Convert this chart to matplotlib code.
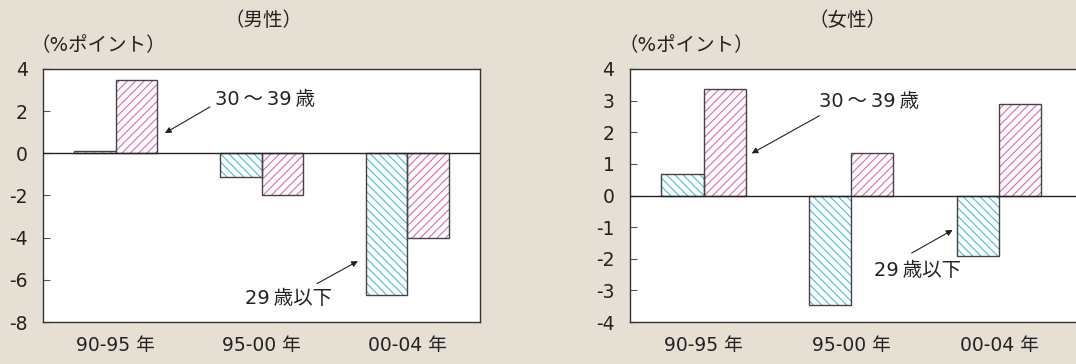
import matplotlib
matplotlib.use("Agg")
import matplotlib.pyplot as plt
import numpy as np

# changes in rates by age band, in percentage points
periods = ["90-95 年", "95-00 年", "00-04 年"]
male_under29 = [0.1, -1.1, -6.7]
male_30s = [3.5, -2.0, -4.0]
female_under29 = [0.67, -3.45, -1.9]
female_30s = [3.38, 1.35, 2.9]

male_ticks = [-8, -6, -4, -2, 0, 2, 4]
female_ticks = [-4, -3, -2, -1, 0, 1, 2, 3, 4]

label_30s = "30\u2009～\u200939\u2009歳"
label_under29 = "29\u2009歳以下"

BG = "#e6e0d4"
BLUE = "#45bcd8"
PINK = "#e066ae"
EDGE = "#444444"
FONT = ["DejaVu Sans", "Noto Sans CJK JP"]

plt.rcParams["font.family"] = FONT
plt.rcParams["hatch.linewidth"] = 0.8

fig = plt.figure(figsize=(10.76, 3.64), dpi=100, facecolor=BG)

W, H = 1076, 364


def panel(left, right, xmax, values_a, values_b, ticks, title, title_x, unit_x,
          notes):
    ax = fig.add_axes([left / W, 1 - 322 / H, (right - left) / W, (322 - 69) / H])
    ax.set_facecolor("white")
    x = np.arange(len(periods))
    w = 0.285
    # hatched fill first, then a plain outline on top
    ax.bar(x - w / 2, values_a, w, color="white", edgecolor=BLUE, hatch="\\\\\\\\",
           linewidth=0, zorder=2)
    ax.bar(x + w / 2, values_b, w, color="white", edgecolor=PINK, hatch="////",
           linewidth=0, zorder=2)
    ax.bar(x - w / 2, values_a, w, color="none", edgecolor=EDGE, linewidth=1.0,
           zorder=3)
    ax.bar(x + w / 2, values_b, w, color="none", edgecolor=EDGE, linewidth=1.0,
           zorder=3)
    ax.axhline(0, color="#222222", linewidth=1.0, zorder=4)

    ax.set_xlim(-0.5, xmax)
    ax.set_ylim(ticks[0], ticks[-1])
    ax.set_yticks(ticks)
    ax.set_yticklabels([str(t) for t in ticks], fontsize=13.5, color="#222222")
    ax.set_xticks(x)
    ax.set_xticklabels(periods, fontsize=13.5, color="#222222")
    ax.tick_params(axis="y", direction="in", length=5, width=0.8, pad=11,
                   color="#555555")
    ax.tick_params(axis="x", length=0, pad=10)
    for s in ax.spines.values():
        s.set_color("#333333")
        s.set_linewidth(1.0)

    fig.text(title_x / W, 1 - 20 / H, title, ha="center", va="center",
             fontsize=14, color="#222222")
    fig.text(unit_x / W, 1 - 46 / H, "（%ポイント）", ha="left", va="center",
             fontsize=14, color="#222222")

    for label, txt_xy, tail, tip in notes:
        ax.annotate("", xy=tip, xytext=tail,
                    arrowprops=dict(arrowstyle="-|>", color="#222222", lw=0.8,
                                    mutation_scale=9, shrinkA=0, shrinkB=0),
                    zorder=5)
        ax.text(txt_xy[0], txt_xy[1], label, ha="left", va="center",
                fontsize=14, color="#222222", zorder=5)
    return ax


panel(43, 480, 2.5, male_under29, male_30s, male_ticks, "（男性）", 263, 31,
      [(label_30s, (0.68, 2.55), (0.646, 2.2), (0.337, 0.96)),
       (label_under29, (0.89, -6.9), (1.381, -6.18), (1.662, -5.11))])

panel(629.7, 1080, 2.547, female_under29, female_30s, female_ticks, "（女性）",
      847, 619,
      [(label_30s, (0.78, 2.97), (0.783, 2.52), (0.325, 1.33)),
       (label_under29, (1.15, -2.37), (1.408, -1.82), (1.685, -1.09))])

fig.savefig("out.png", dpi=100, facecolor=BG)
